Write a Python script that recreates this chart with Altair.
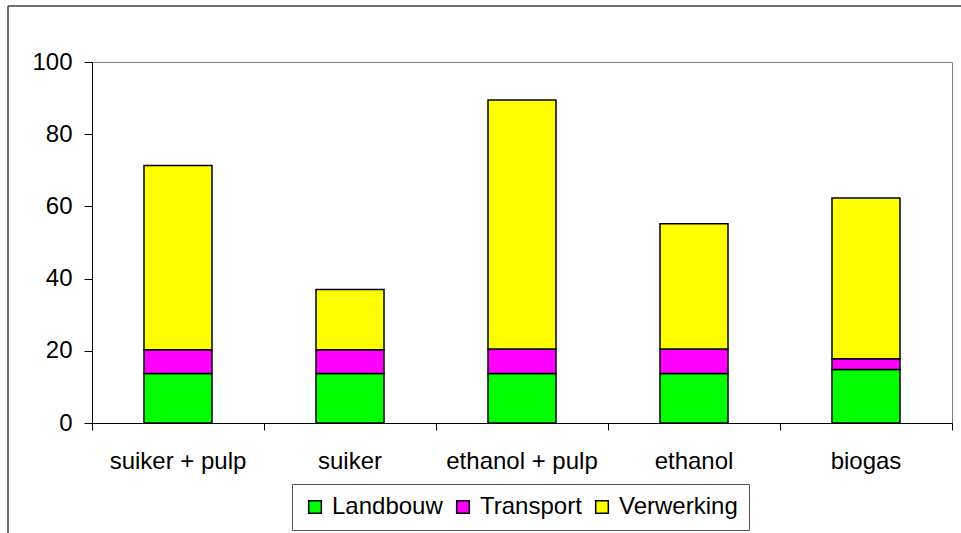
import altair as alt
import pandas as pd

categories = ["suiker + pulp", "suiker", "ethanol + pulp", "ethanol", "biogas"]
series = ["Landbouw", "Transport", "Verwerking"]
landbouw = [13.7, 13.7, 13.7, 13.7, 14.8]
transport = [6.6, 6.6, 6.8, 6.8, 3.0]
verwerking = [51.0, 16.7, 69.0, 34.7, 44.5]
colors = ["#00FF00", "#FF00FF", "#FFFF00"]
y_ticks = [0, 20, 40, 60, 80, 100]

rows = []
for i, c in enumerate(categories):
    for k, (name, vals) in enumerate(zip(series, [landbouw, transport, verwerking])):
        rows.append({"categorie": c, "onderdeel": name, "waarde": vals[i], "volgorde": k})
df = pd.DataFrame(rows)

FONT = "Liberation Sans"

bars = alt.Chart(df).mark_bar(size=68, stroke="black", strokeWidth=1.5).encode(
    x=alt.X("categorie:N", sort=categories,
            scale=alt.Scale(paddingInner=0, paddingOuter=0),
            axis=alt.Axis(title=None, labelAngle=0, bandPosition=1, tickExtra=True,
                          tickSize=7, labelPadding=19, labelFontSize=24, labelFont=FONT,
                          labelColor="black", domainColor="black", tickColor="black")),
    y=alt.Y("waarde:Q", stack="zero",
            scale=alt.Scale(domain=[0, 100], nice=False),
            axis=alt.Axis(title=None, values=y_ticks, grid=False, tickSize=8, labelPadding=12,
                          labelFontSize=24, labelFont=FONT, labelColor="black",
                          domainColor="black", tickColor="black")),
    color=alt.Color("onderdeel:N", sort=series,
                    scale=alt.Scale(domain=series, range=colors),
                    legend=alt.Legend(title=None, orient="none", direction="horizontal",
                                      legendX=200, legendY=422,
                                      symbolType="square", symbolSize=160,
                                      symbolStrokeColor="black", symbolStrokeWidth=1.5,
                                      labelFontSize=24, labelFont=FONT, labelColor="black",
                                      labelOffset=5, columnPadding=8,
                                      padding=11, strokeColor="#555555", fillColor="white")),
    order=alt.Order("volgorde:Q"),
)

frame_df = pd.DataFrame({"a": [0]})
left_line = alt.Chart(frame_df).mark_rule(color="#404040", strokeWidth=1.5).encode(
    x=alt.value(-84), y=alt.value(-56), y2=alt.value(520))
top_line = alt.Chart(frame_df).mark_rule(color="#404040", strokeWidth=1.5).encode(
    x=alt.value(-84), x2=alt.value(880), y=alt.value(-56))

chart = alt.layer(bars, left_line, top_line).properties(
    width=860, height=361,
    autosize=alt.AutoSizeParams(type="none"),
    padding={"left": 92, "top": 62, "right": 9, "bottom": 110},
    background="white",
).configure_view(stroke="#808080", strokeWidth=1)

chart.save("out.html", embed_options={"renderer": "svg", "actions": False})
